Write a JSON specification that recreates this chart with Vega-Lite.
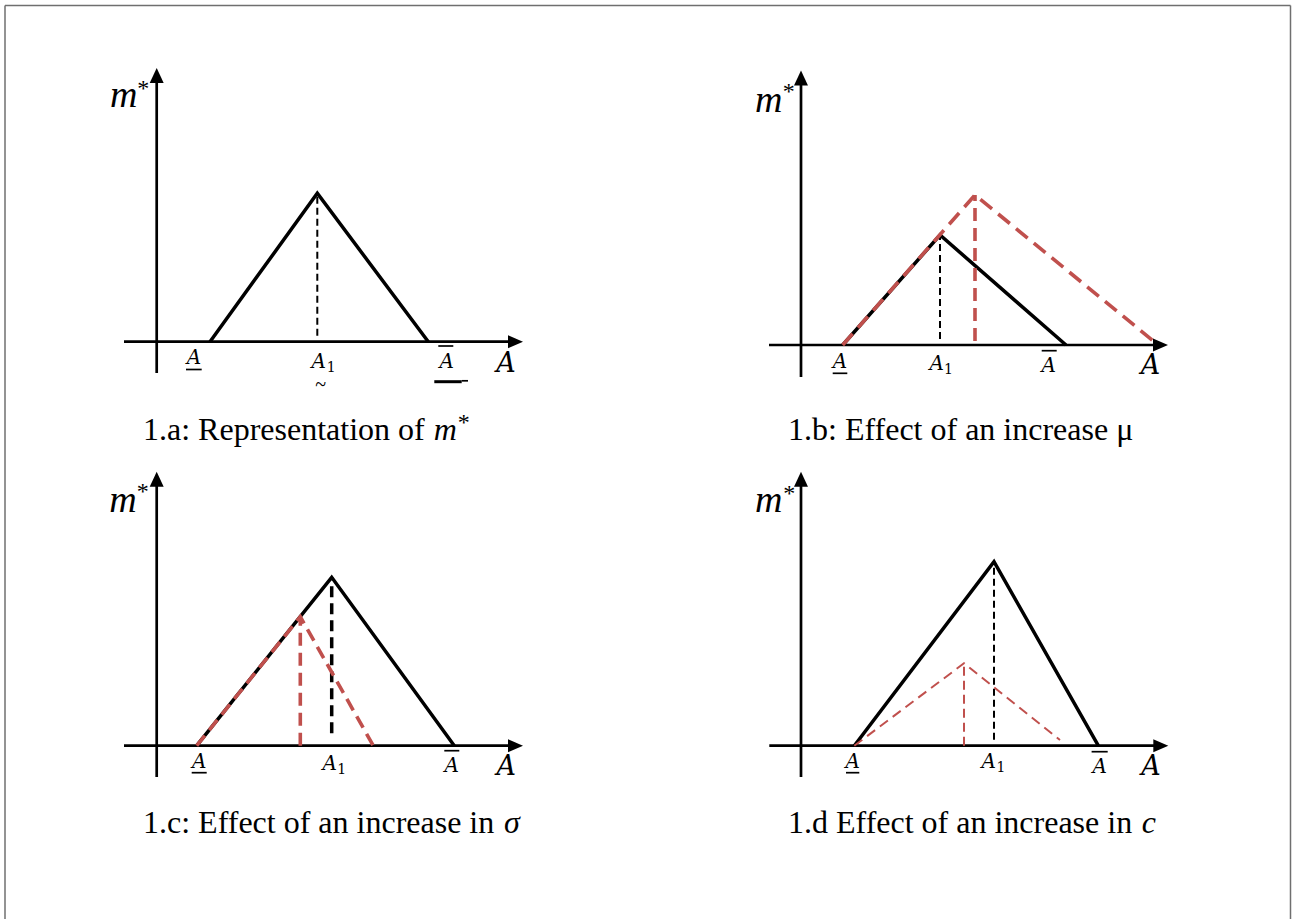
{
  "$schema": "https://vega.github.io/schema/vega-lite/v6.json",
  "width": 1292,
  "height": 919,
  "autosize": {"type": "none"},
  "padding": 0,
  "background": "white",
  "config": {"view": {"stroke": null}},
  "datasets": {
    "frame": [
      {"x": 0, "y": 1, "x2": 1, "y2": 1},
      {"x": 0, "y": 0, "x2": 0, "y2": 1},
      {"x": 1, "y": 0, "x2": 1, "y2": 1}
    ],
    "segments": [
      {"panel": "a", "part": "axis", "x": 0, "y": -1.565, "x2": 0, "y2": 13.1},
      {"panel": "a", "part": "axis", "x": -1.635, "y": 0, "x2": 17.7, "y2": 0},
      {"panel": "a", "part": "guide", "x": 8.03, "y": 0.3, "x2": 8.03, "y2": 7.42},
      {"panel": "a", "part": "bar", "x": 1.465, "y": -1.39, "x2": 2.25, "y2": -1.39},
      {"panel": "a", "part": "bar", "x": 14.08, "y": -0.215, "x2": 14.83, "y2": -0.215},
      {"panel": "a", "part": "bar-bold", "x": 13.88, "y": -2.0, "x2": 15.25, "y2": -2.0},
      {"panel": "a", "part": "bar", "x": 15.25, "y": -1.955, "x2": 15.565, "y2": -1.955},
      {"panel": "b", "part": "axis", "x": 0, "y": -1.6, "x2": 0, "y2": 13.15},
      {"panel": "b", "part": "axis", "x": -1.6, "y": 0, "x2": 17.7, "y2": 0},
      {"panel": "b", "part": "guide", "x": 6.95, "y": 0.3, "x2": 6.95, "y2": 5.5},
      {"panel": "b", "part": "shift", "x": 8.7, "y": 0.2, "x2": 8.7, "y2": 7.5},
      {"panel": "b", "part": "bar", "x": 1.585, "y": -1.415, "x2": 2.315, "y2": -1.415},
      {"panel": "b", "part": "bar", "x": 12.035, "y": -0.285, "x2": 12.785, "y2": -0.285},
      {"panel": "c", "part": "axis", "x": 0, "y": -1.565, "x2": 0, "y2": 13.1},
      {"panel": "c", "part": "axis", "x": -1.635, "y": 0, "x2": 17.7, "y2": 0},
      {"panel": "c", "part": "guide-bold", "x": 8.75, "y": 0.62, "x2": 8.75, "y2": 8.42},
      {"panel": "c", "part": "shift", "x": 7.18, "y": 0, "x2": 7.18, "y2": 6.45},
      {"panel": "c", "part": "bar", "x": 1.75, "y": -1.35, "x2": 2.5, "y2": -1.35},
      {"panel": "c", "part": "bar", "x": 14.38, "y": -0.25, "x2": 15.13, "y2": -0.25},
      {"panel": "d", "part": "axis", "x": 0, "y": -1.565, "x2": 0, "y2": 13.1},
      {"panel": "d", "part": "axis", "x": -1.585, "y": 0, "x2": 17.7, "y2": 0},
      {"panel": "d", "part": "guide", "x": 9.65, "y": 0.3, "x2": 9.65, "y2": 9.2},
      {"panel": "d", "part": "shift-thin", "x": 8.15, "y": 0, "x2": 8.15, "y2": 4.12},
      {"panel": "d", "part": "bar", "x": 2.25, "y": -1.35, "x2": 2.915, "y2": -1.35},
      {"panel": "d", "part": "bar", "x": 14.53, "y": -0.3, "x2": 15.335, "y2": -0.3}
    ],
    "arrows": [
      {"panel": "a", "dir": "up", "x": 0, "y": 13.31},
      {"panel": "a", "dir": "right", "x": 17.94, "y": 0},
      {"panel": "b", "dir": "up", "x": 0, "y": 13.35},
      {"panel": "b", "dir": "right", "x": 17.975, "y": 0},
      {"panel": "c", "dir": "up", "x": 0, "y": 13.325},
      {"panel": "c", "dir": "right", "x": 17.94, "y": 0},
      {"panel": "d", "dir": "up", "x": 0, "y": 13.325},
      {"panel": "d", "dir": "right", "x": 17.99, "y": 0}
    ],
    "curves": [
      {"panel": "a", "curve": "m*", "x": 2.665, "y": 0},
      {"panel": "a", "curve": "m*", "x": 8.03, "y": 7.42},
      {"panel": "a", "curve": "m*", "x": 13.58, "y": 0},
      {"panel": "b", "curve": "m*", "x": 2.085, "y": 0},
      {"panel": "b", "curve": "m*", "x": 6.95, "y": 5.5},
      {"panel": "b", "curve": "m*", "x": 13.25, "y": 0},
      {"panel": "b", "curve": "m* after", "x": 2.085, "y": 0},
      {"panel": "b", "curve": "m* after", "x": 8.7, "y": 7.5},
      {"panel": "b", "curve": "m* after", "x": 17.865, "y": 0},
      {"panel": "c", "curve": "m*", "x": 2.0, "y": 0},
      {"panel": "c", "curve": "m*", "x": 8.75, "y": 8.42},
      {"panel": "c", "curve": "m*", "x": 14.88, "y": 0},
      {"panel": "c", "curve": "m* after", "x": 2.0, "y": 0},
      {"panel": "c", "curve": "m* after", "x": 7.18, "y": 6.45},
      {"panel": "c", "curve": "m* after", "x": 10.83, "y": 0},
      {"panel": "d", "curve": "m*", "x": 2.665, "y": 0},
      {"panel": "d", "curve": "m*", "x": 9.65, "y": 9.2},
      {"panel": "d", "curve": "m*", "x": 14.865, "y": 0},
      {"panel": "d", "curve": "m* after", "x": 2.665, "y": 0},
      {"panel": "d", "curve": "m* after", "x": 8.15, "y": 4.12},
      {"panel": "d", "curve": "m* after", "x": 12.95, "y": 0.285}
    ],
    "labels": [
      {"panel": "a", "role": "tick", "text": "A", "x": 1.865, "y": -1.115},
      {"panel": "a", "role": "tick", "text": "A", "x": 8.1, "y": -1.33},
      {"panel": "a", "role": "sub", "text": "1", "x": 8.72, "y": -1.5},
      {"panel": "a", "role": "tick", "text": "A", "x": 14.5, "y": -1.315},
      {"panel": "a", "role": "tilde", "text": "~", "x": 8.2, "y": -2.45},
      {"panel": "a", "role": "axis-name", "text": "A", "x": 17.465, "y": -1.5},
      {"panel": "a", "role": "y-name", "text": "m", "x": -2.33, "y": 11.75},
      {"panel": "a", "role": "star", "text": "*", "x": -0.97, "y": 12.3},
      {"panel": "a", "role": "caption", "text": "1.a: Representation of ", "x": -0.685, "y": -4.89},
      {"panel": "a", "role": "caption-math", "text": "m", "x": 13.85, "y": -4.89},
      {"panel": "a", "role": "caption-star", "text": "*", "x": 15.05, "y": -4.4},
      {"panel": "b", "role": "tick", "text": "A", "x": 1.95, "y": -1.165},
      {"panel": "b", "role": "tick", "text": "A", "x": 6.785, "y": -1.25},
      {"panel": "b", "role": "sub", "text": "1", "x": 7.37, "y": -1.45},
      {"panel": "b", "role": "tick", "text": "A", "x": 12.39, "y": -1.335},
      {"panel": "b", "role": "axis-name", "text": "A", "x": 17.475, "y": -1.45},
      {"panel": "b", "role": "y-name", "text": "m", "x": -2.3, "y": 11.665},
      {"panel": "b", "role": "star", "text": "*", "x": -0.915, "y": 12.3},
      {"panel": "b", "role": "caption", "text": "1.b: Effect of an increase μ", "x": -0.65, "y": -4.725},
      {"panel": "c", "role": "tick", "text": "A", "x": 2.125, "y": -1.13},
      {"panel": "c", "role": "tick", "text": "A", "x": 8.655, "y": -1.215},
      {"panel": "c", "role": "sub", "text": "1", "x": 9.255, "y": -1.415},
      {"panel": "c", "role": "tick", "text": "A", "x": 14.75, "y": -1.3},
      {"panel": "c", "role": "axis-name", "text": "A", "x": 17.475, "y": -1.465},
      {"panel": "c", "role": "y-name", "text": "m", "x": -2.37, "y": 11.7},
      {"panel": "c", "role": "star", "text": "*", "x": -1.0, "y": 12.33},
      {"panel": "c", "role": "caption", "text": "1.c: Effect of an increase in ", "x": -0.685, "y": -4.38},
      {"panel": "c", "role": "caption-math", "text": "σ", "x": 17.36, "y": -4.38},
      {"panel": "d", "role": "tick", "text": "A", "x": 2.585, "y": -1.13},
      {"panel": "d", "role": "tick", "text": "A", "x": 9.385, "y": -1.13},
      {"panel": "d", "role": "sub", "text": "1", "x": 9.995, "y": -1.33},
      {"panel": "d", "role": "tick", "text": "A", "x": 14.935, "y": -1.35},
      {"panel": "d", "role": "axis-name", "text": "A", "x": 17.5, "y": -1.465},
      {"panel": "d", "role": "y-name", "text": "m", "x": -2.3, "y": 11.7},
      {"panel": "d", "role": "star", "text": "*", "x": -0.885, "y": 12.25},
      {"panel": "d", "role": "caption", "text": "1.d Effect of an increase in ", "x": -0.65, "y": -4.38},
      {"panel": "d", "role": "caption-math", "text": "c", "x": 17.04, "y": -4.38}
    ]
  },
  "resolve": {"scale": {"x": "independent", "y": "independent"}},
  "layer": [
    {
      "data": {"name": "frame"},
      "mark": {"type": "rule", "color": "#6f6f6f", "strokeWidth": 1.5},
      "encoding": {
        "x": {"field": "x", "type": "quantitative", "scale": {"domain": [0, 1], "range": [5, 1290.5], "nice": false, "zero": false}, "axis": null},
        "y": {"field": "y", "type": "quantitative", "scale": {"domain": [0, 1], "range": [930, 5.5], "nice": false, "zero": false}, "axis": null},
        "x2": {"field": "x2"},
        "y2": {"field": "y2"}
      }
    },
    {
      "encoding": {
        "x": {"field": "x", "type": "quantitative", "scale": {"domain": [-3, 20], "range": [96.7, 556.7], "nice": false, "zero": false}, "axis": null},
        "y": {"field": "y", "type": "quantitative", "scale": {"domain": [-5, 15], "range": [441.7, 41.7], "nice": false, "zero": false}, "axis": null}
      },
      "layer": [
        {"data": {"name": "segments"}, "transform": [{"filter": "datum.panel === 'a' && datum.part === 'axis'"}], "mark": {"type": "rule", "color": "black", "strokeWidth": 2.7}, "encoding": {"x2": {"field": "x2"}, "y2": {"field": "y2"}}},
        {"data": {"name": "segments"}, "transform": [{"filter": "datum.panel === 'a' && datum.part === 'guide'"}], "mark": {"type": "rule", "color": "black", "strokeWidth": 2, "strokeDash": [7, 4]}, "encoding": {"x2": {"field": "x2"}, "y2": {"field": "y2"}}},
        {"data": {"name": "segments"}, "transform": [{"filter": "datum.panel === 'a' && datum.part === 'bar'"}], "mark": {"type": "rule", "color": "black", "strokeWidth": 1.7}, "encoding": {"x2": {"field": "x2"}, "y2": {"field": "y2"}}},
        {"data": {"name": "segments"}, "transform": [{"filter": "datum.panel === 'a' && datum.part === 'bar-bold'"}], "mark": {"type": "rule", "color": "black", "strokeWidth": 3}, "encoding": {"x2": {"field": "x2"}, "y2": {"field": "y2"}}},
        {"data": {"name": "arrows"}, "transform": [{"filter": "datum.panel === 'a' && datum.dir === 'up'"}], "mark": {"type": "point", "filled": true, "color": "black", "opacity": 1, "size": 225, "shape": "M0,-1L-0.93,1L0.93,1Z"}},
        {"data": {"name": "arrows"}, "transform": [{"filter": "datum.panel === 'a' && datum.dir === 'right'"}], "mark": {"type": "point", "filled": true, "color": "black", "opacity": 1, "size": 225, "shape": "M1,0L-1,-0.87L-1,0.87Z"}},
        {"data": {"name": "curves"}, "transform": [{"filter": "datum.panel === 'a' && datum.curve === 'm*'"}], "mark": {"type": "line", "color": "black", "strokeWidth": 3.5, "strokeJoin": "miter"}, "encoding": {}},
        {"data": {"name": "labels"}, "transform": [{"filter": "datum.panel === 'a' && datum.role === 'tick'"}], "mark": {"type": "text", "font": "DejaVu Serif", "fontStyle": "italic", "fontSize": 20, "align": "center", "baseline": "alphabetic", "color": "black"}, "encoding": {"text": {"field": "text"}}},
        {"data": {"name": "labels"}, "transform": [{"filter": "datum.panel === 'a' && datum.role === 'sub'"}], "mark": {"type": "text", "font": "DejaVu Serif", "fontSize": 14, "align": "center", "baseline": "alphabetic", "color": "black"}, "encoding": {"text": {"field": "text"}}},
        {"data": {"name": "labels"}, "transform": [{"filter": "datum.panel === 'a' && datum.role === 'tilde'"}], "mark": {"type": "text", "font": "Liberation Serif", "fontSize": 20, "align": "center", "baseline": "alphabetic", "color": "black"}, "encoding": {"text": {"field": "text"}}},
        {"data": {"name": "labels"}, "transform": [{"filter": "datum.panel === 'a' && datum.role === 'axis-name'"}], "mark": {"type": "text", "font": "DejaVu Serif", "fontStyle": "italic", "fontSize": 27, "align": "center", "baseline": "alphabetic", "color": "black"}, "encoding": {"text": {"field": "text"}}},
        {"data": {"name": "labels"}, "transform": [{"filter": "datum.panel === 'a' && datum.role === 'y-name'"}], "mark": {"type": "text", "font": "Liberation Serif", "fontStyle": "italic", "fontSize": 38, "align": "left", "baseline": "alphabetic", "color": "black"}, "encoding": {"text": {"field": "text"}}},
        {"data": {"name": "labels"}, "transform": [{"filter": "datum.panel === 'a' && (datum.role === 'star' || datum.role === 'caption-star')"}], "mark": {"type": "text", "font": "Liberation Serif", "fontSize": 24, "align": "left", "baseline": "alphabetic", "color": "black"}, "encoding": {"text": {"field": "text"}}},
        {"data": {"name": "labels"}, "transform": [{"filter": "datum.panel === 'a' && datum.role === 'caption'"}], "mark": {"type": "text", "font": "Liberation Serif", "fontSize": 32, "align": "left", "baseline": "alphabetic", "color": "black"}, "encoding": {"text": {"field": "text"}}},
        {"data": {"name": "labels"}, "transform": [{"filter": "datum.panel === 'a' && datum.role === 'caption-math'"}], "mark": {"type": "text", "font": "Liberation Serif", "fontStyle": "italic", "fontSize": 32, "align": "left", "baseline": "alphabetic", "color": "black"}, "encoding": {"text": {"field": "text"}}}
      ]
    },
    {
      "encoding": {
        "x": {"field": "x", "type": "quantitative", "scale": {"domain": [-3, 20], "range": [741, 1201], "nice": false, "zero": false}, "axis": null},
        "y": {"field": "y", "type": "quantitative", "scale": {"domain": [-5, 15], "range": [445, 45], "nice": false, "zero": false}, "axis": null}
      },
      "layer": [
        {"data": {"name": "segments"}, "transform": [{"filter": "datum.panel === 'b' && datum.part === 'axis'"}], "mark": {"type": "rule", "color": "black", "strokeWidth": 2.7}, "encoding": {"x2": {"field": "x2"}, "y2": {"field": "y2"}}},
        {"data": {"name": "segments"}, "transform": [{"filter": "datum.panel === 'b' && datum.part === 'guide'"}], "mark": {"type": "rule", "color": "black", "strokeWidth": 2, "strokeDash": [7, 4]}, "encoding": {"x2": {"field": "x2"}, "y2": {"field": "y2"}}},
        {"data": {"name": "segments"}, "transform": [{"filter": "datum.panel === 'b' && datum.part === 'bar'"}], "mark": {"type": "rule", "color": "black", "strokeWidth": 1.7}, "encoding": {"x2": {"field": "x2"}, "y2": {"field": "y2"}}},
        {"data": {"name": "arrows"}, "transform": [{"filter": "datum.panel === 'b' && datum.dir === 'up'"}], "mark": {"type": "point", "filled": true, "color": "black", "opacity": 1, "size": 225, "shape": "M0,-1L-0.93,1L0.93,1Z"}},
        {"data": {"name": "arrows"}, "transform": [{"filter": "datum.panel === 'b' && datum.dir === 'right'"}], "mark": {"type": "point", "filled": true, "color": "black", "opacity": 1, "size": 225, "shape": "M1,0L-1,-0.87L-1,0.87Z"}},
        {"data": {"name": "curves"}, "transform": [{"filter": "datum.panel === 'b' && datum.curve === 'm*'"}], "mark": {"type": "line", "color": "black", "strokeWidth": 3.5, "strokeJoin": "miter"}, "encoding": {}},
        {"data": {"name": "curves"}, "transform": [{"filter": "datum.panel === 'b' && datum.curve === 'm* after'"}], "mark": {"type": "line", "color": "#C0504D", "strokeWidth": 3.6, "strokeDash": [15, 8], "strokeJoin": "miter"}, "encoding": {}},
        {"data": {"name": "segments"}, "transform": [{"filter": "datum.panel === 'b' && datum.part === 'shift'"}], "mark": {"type": "rule", "color": "#C0504D", "strokeWidth": 3.6, "strokeDash": [13, 7]}, "encoding": {"x2": {"field": "x2"}, "y2": {"field": "y2"}}},
        {"data": {"name": "labels"}, "transform": [{"filter": "datum.panel === 'b' && datum.role === 'tick'"}], "mark": {"type": "text", "font": "DejaVu Serif", "fontStyle": "italic", "fontSize": 20, "align": "center", "baseline": "alphabetic", "color": "black"}, "encoding": {"text": {"field": "text"}}},
        {"data": {"name": "labels"}, "transform": [{"filter": "datum.panel === 'b' && datum.role === 'sub'"}], "mark": {"type": "text", "font": "DejaVu Serif", "fontSize": 14, "align": "center", "baseline": "alphabetic", "color": "black"}, "encoding": {"text": {"field": "text"}}},
        {"data": {"name": "labels"}, "transform": [{"filter": "datum.panel === 'b' && datum.role === 'axis-name'"}], "mark": {"type": "text", "font": "DejaVu Serif", "fontStyle": "italic", "fontSize": 27, "align": "center", "baseline": "alphabetic", "color": "black"}, "encoding": {"text": {"field": "text"}}},
        {"data": {"name": "labels"}, "transform": [{"filter": "datum.panel === 'b' && datum.role === 'y-name'"}], "mark": {"type": "text", "font": "Liberation Serif", "fontStyle": "italic", "fontSize": 38, "align": "left", "baseline": "alphabetic", "color": "black"}, "encoding": {"text": {"field": "text"}}},
        {"data": {"name": "labels"}, "transform": [{"filter": "datum.panel === 'b' && datum.role === 'star'"}], "mark": {"type": "text", "font": "Liberation Serif", "fontSize": 24, "align": "left", "baseline": "alphabetic", "color": "black"}, "encoding": {"text": {"field": "text"}}},
        {"data": {"name": "labels"}, "transform": [{"filter": "datum.panel === 'b' && datum.role === 'caption'"}], "mark": {"type": "text", "font": "Liberation Serif", "fontSize": 32, "align": "left", "baseline": "alphabetic", "color": "black"}, "encoding": {"text": {"field": "text"}}}
      ]
    },
    {
      "encoding": {
        "x": {"field": "x", "type": "quantitative", "scale": {"domain": [-3, 20], "range": [96.7, 556.7], "nice": false, "zero": false}, "axis": null},
        "y": {"field": "y", "type": "quantitative", "scale": {"domain": [-5, 15], "range": [845.7, 445.7], "nice": false, "zero": false}, "axis": null}
      },
      "layer": [
        {"data": {"name": "segments"}, "transform": [{"filter": "datum.panel === 'c' && datum.part === 'axis'"}], "mark": {"type": "rule", "color": "black", "strokeWidth": 2.7}, "encoding": {"x2": {"field": "x2"}, "y2": {"field": "y2"}}},
        {"data": {"name": "segments"}, "transform": [{"filter": "datum.panel === 'c' && datum.part === 'bar'"}], "mark": {"type": "rule", "color": "black", "strokeWidth": 1.7}, "encoding": {"x2": {"field": "x2"}, "y2": {"field": "y2"}}},
        {"data": {"name": "arrows"}, "transform": [{"filter": "datum.panel === 'c' && datum.dir === 'up'"}], "mark": {"type": "point", "filled": true, "color": "black", "opacity": 1, "size": 225, "shape": "M0,-1L-0.93,1L0.93,1Z"}},
        {"data": {"name": "arrows"}, "transform": [{"filter": "datum.panel === 'c' && datum.dir === 'right'"}], "mark": {"type": "point", "filled": true, "color": "black", "opacity": 1, "size": 225, "shape": "M1,0L-1,-0.87L-1,0.87Z"}},
        {"data": {"name": "curves"}, "transform": [{"filter": "datum.panel === 'c' && datum.curve === 'm*'"}], "mark": {"type": "line", "color": "black", "strokeWidth": 3.5, "strokeJoin": "miter"}, "encoding": {}},
        {"data": {"name": "segments"}, "transform": [{"filter": "datum.panel === 'c' && datum.part === 'guide-bold'"}], "mark": {"type": "rule", "color": "black", "strokeWidth": 3.5, "strokeDash": [11, 6]}, "encoding": {"x2": {"field": "x2"}, "y2": {"field": "y2"}}},
        {"data": {"name": "curves"}, "transform": [{"filter": "datum.panel === 'c' && datum.curve === 'm* after'"}], "mark": {"type": "line", "color": "#C0504D", "strokeWidth": 3.6, "strokeDash": [13, 7], "strokeJoin": "miter"}, "encoding": {}},
        {"data": {"name": "segments"}, "transform": [{"filter": "datum.panel === 'c' && datum.part === 'shift'"}], "mark": {"type": "rule", "color": "#C0504D", "strokeWidth": 3.6, "strokeDash": [13, 7]}, "encoding": {"x2": {"field": "x2"}, "y2": {"field": "y2"}}},
        {"data": {"name": "labels"}, "transform": [{"filter": "datum.panel === 'c' && datum.role === 'tick'"}], "mark": {"type": "text", "font": "DejaVu Serif", "fontStyle": "italic", "fontSize": 20, "align": "center", "baseline": "alphabetic", "color": "black"}, "encoding": {"text": {"field": "text"}}},
        {"data": {"name": "labels"}, "transform": [{"filter": "datum.panel === 'c' && datum.role === 'sub'"}], "mark": {"type": "text", "font": "DejaVu Serif", "fontSize": 14, "align": "center", "baseline": "alphabetic", "color": "black"}, "encoding": {"text": {"field": "text"}}},
        {"data": {"name": "labels"}, "transform": [{"filter": "datum.panel === 'c' && datum.role === 'axis-name'"}], "mark": {"type": "text", "font": "DejaVu Serif", "fontStyle": "italic", "fontSize": 27, "align": "center", "baseline": "alphabetic", "color": "black"}, "encoding": {"text": {"field": "text"}}},
        {"data": {"name": "labels"}, "transform": [{"filter": "datum.panel === 'c' && datum.role === 'y-name'"}], "mark": {"type": "text", "font": "Liberation Serif", "fontStyle": "italic", "fontSize": 38, "align": "left", "baseline": "alphabetic", "color": "black"}, "encoding": {"text": {"field": "text"}}},
        {"data": {"name": "labels"}, "transform": [{"filter": "datum.panel === 'c' && datum.role === 'star'"}], "mark": {"type": "text", "font": "Liberation Serif", "fontSize": 24, "align": "left", "baseline": "alphabetic", "color": "black"}, "encoding": {"text": {"field": "text"}}},
        {"data": {"name": "labels"}, "transform": [{"filter": "datum.panel === 'c' && datum.role === 'caption'"}], "mark": {"type": "text", "font": "Liberation Serif", "fontSize": 32, "align": "left", "baseline": "alphabetic", "color": "black"}, "encoding": {"text": {"field": "text"}}},
        {"data": {"name": "labels"}, "transform": [{"filter": "datum.panel === 'c' && datum.role === 'caption-math'"}], "mark": {"type": "text", "font": "Liberation Serif", "fontStyle": "italic", "fontSize": 32, "align": "left", "baseline": "alphabetic", "color": "black"}, "encoding": {"text": {"field": "text"}}}
      ]
    },
    {
      "encoding": {
        "x": {"field": "x", "type": "quantitative", "scale": {"domain": [-3, 20], "range": [741, 1201], "nice": false, "zero": false}, "axis": null},
        "y": {"field": "y", "type": "quantitative", "scale": {"domain": [-5, 15], "range": [845.7, 445.7], "nice": false, "zero": false}, "axis": null}
      },
      "layer": [
        {"data": {"name": "segments"}, "transform": [{"filter": "datum.panel === 'd' && datum.part === 'axis'"}], "mark": {"type": "rule", "color": "black", "strokeWidth": 2.7}, "encoding": {"x2": {"field": "x2"}, "y2": {"field": "y2"}}},
        {"data": {"name": "segments"}, "transform": [{"filter": "datum.panel === 'd' && datum.part === 'guide'"}], "mark": {"type": "rule", "color": "black", "strokeWidth": 2, "strokeDash": [7, 4]}, "encoding": {"x2": {"field": "x2"}, "y2": {"field": "y2"}}},
        {"data": {"name": "segments"}, "transform": [{"filter": "datum.panel === 'd' && datum.part === 'bar'"}], "mark": {"type": "rule", "color": "black", "strokeWidth": 1.7}, "encoding": {"x2": {"field": "x2"}, "y2": {"field": "y2"}}},
        {"data": {"name": "arrows"}, "transform": [{"filter": "datum.panel === 'd' && datum.dir === 'up'"}], "mark": {"type": "point", "filled": true, "color": "black", "opacity": 1, "size": 225, "shape": "M0,-1L-0.93,1L0.93,1Z"}},
        {"data": {"name": "arrows"}, "transform": [{"filter": "datum.panel === 'd' && datum.dir === 'right'"}], "mark": {"type": "point", "filled": true, "color": "black", "opacity": 1, "size": 225, "shape": "M1,0L-1,-0.87L-1,0.87Z"}},
        {"data": {"name": "curves"}, "transform": [{"filter": "datum.panel === 'd' && datum.curve === 'm*'"}], "mark": {"type": "line", "color": "black", "strokeWidth": 3.5, "strokeJoin": "miter"}, "encoding": {}},
        {"data": {"name": "curves"}, "transform": [{"filter": "datum.panel === 'd' && datum.curve === 'm* after'"}], "mark": {"type": "line", "color": "#C0504D", "strokeWidth": 2, "strokeDash": [10, 6], "strokeJoin": "miter"}, "encoding": {}},
        {"data": {"name": "segments"}, "transform": [{"filter": "datum.panel === 'd' && datum.part === 'shift-thin'"}], "mark": {"type": "rule", "color": "#C0504D", "strokeWidth": 2, "strokeDash": [9, 5]}, "encoding": {"x2": {"field": "x2"}, "y2": {"field": "y2"}}},
        {"data": {"name": "labels"}, "transform": [{"filter": "datum.panel === 'd' && datum.role === 'tick'"}], "mark": {"type": "text", "font": "DejaVu Serif", "fontStyle": "italic", "fontSize": 20, "align": "center", "baseline": "alphabetic", "color": "black"}, "encoding": {"text": {"field": "text"}}},
        {"data": {"name": "labels"}, "transform": [{"filter": "datum.panel === 'd' && datum.role === 'sub'"}], "mark": {"type": "text", "font": "DejaVu Serif", "fontSize": 14, "align": "center", "baseline": "alphabetic", "color": "black"}, "encoding": {"text": {"field": "text"}}},
        {"data": {"name": "labels"}, "transform": [{"filter": "datum.panel === 'd' && datum.role === 'axis-name'"}], "mark": {"type": "text", "font": "DejaVu Serif", "fontStyle": "italic", "fontSize": 27, "align": "center", "baseline": "alphabetic", "color": "black"}, "encoding": {"text": {"field": "text"}}},
        {"data": {"name": "labels"}, "transform": [{"filter": "datum.panel === 'd' && datum.role === 'y-name'"}], "mark": {"type": "text", "font": "Liberation Serif", "fontStyle": "italic", "fontSize": 38, "align": "left", "baseline": "alphabetic", "color": "black"}, "encoding": {"text": {"field": "text"}}},
        {"data": {"name": "labels"}, "transform": [{"filter": "datum.panel === 'd' && datum.role === 'star'"}], "mark": {"type": "text", "font": "Liberation Serif", "fontSize": 24, "align": "left", "baseline": "alphabetic", "color": "black"}, "encoding": {"text": {"field": "text"}}},
        {"data": {"name": "labels"}, "transform": [{"filter": "datum.panel === 'd' && datum.role === 'caption'"}], "mark": {"type": "text", "font": "Liberation Serif", "fontSize": 32, "align": "left", "baseline": "alphabetic", "color": "black"}, "encoding": {"text": {"field": "text"}}},
        {"data": {"name": "labels"}, "transform": [{"filter": "datum.panel === 'd' && datum.role === 'caption-math'"}], "mark": {"type": "text", "font": "Liberation Serif", "fontStyle": "italic", "fontSize": 32, "align": "left", "baseline": "alphabetic", "color": "black"}, "encoding": {"text": {"field": "text"}}}
      ]
    }
  ]
}
